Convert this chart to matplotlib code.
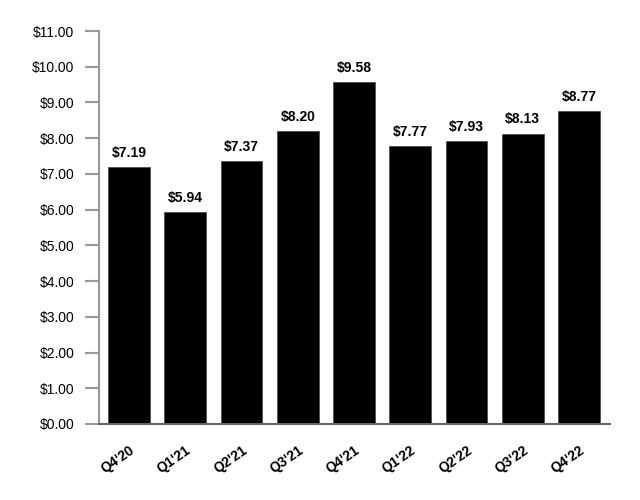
import matplotlib
matplotlib.use("Agg")
import matplotlib.pyplot as plt
import numpy as np

plt.rcParams['font.family'] = ['Liberation Sans', 'DejaVu Sans']

quarters = ["Q4'20", "Q1'21", "Q2'21", "Q3'21", "Q4'21", "Q1'22", "Q2'22", "Q3'22", "Q4'22"]
values = [7.19, 5.94, 7.37, 8.20, 9.58, 7.77, 7.93, 8.13, 8.77]
y_ticks = np.arange(0, 12, 1)

fig = plt.figure(figsize=(6.4, 5), dpi=100)
ax = fig.add_axes([0.155, 0.152, 0.798, 0.786])

x = np.arange(len(quarters))
bars = ax.bar(x, values, width=0.74, color='black', edgecolor='#444444', linewidth=0.5)

# value labels above each bar
for xi, v in zip(x, values):
    ax.text(xi, v + 0.2, f"${v:.2f}", ha='center', va='bottom',
            fontsize=10, fontweight='bold')

ax.set_ylim(0, 11)
ax.set_xlim(-0.53, len(quarters) - 0.45)
ax.set_yticks(y_ticks)
ax.set_yticklabels([f"${t:.2f}" for t in y_ticks], fontsize=10)
ax.set_xticks(x)
ax.set_xticklabels(quarters, rotation=35, ha='right', rotation_mode='anchor',
                   fontsize=10, fontweight='bold')

ax.spines['top'].set_visible(False)
ax.spines['right'].set_visible(False)
ax.spines['left'].set_color('#999999')
ax.spines['left'].set_linewidth(1.5)
ax.spines['bottom'].set_color('#666666')
ax.spines['bottom'].set_linewidth(1.5)
ax.tick_params(axis='y', length=10, width=1.5, color='#999999', pad=8)
ax.tick_params(axis='x', length=0, pad=14)

fig.savefig("out.png", dpi=100)
